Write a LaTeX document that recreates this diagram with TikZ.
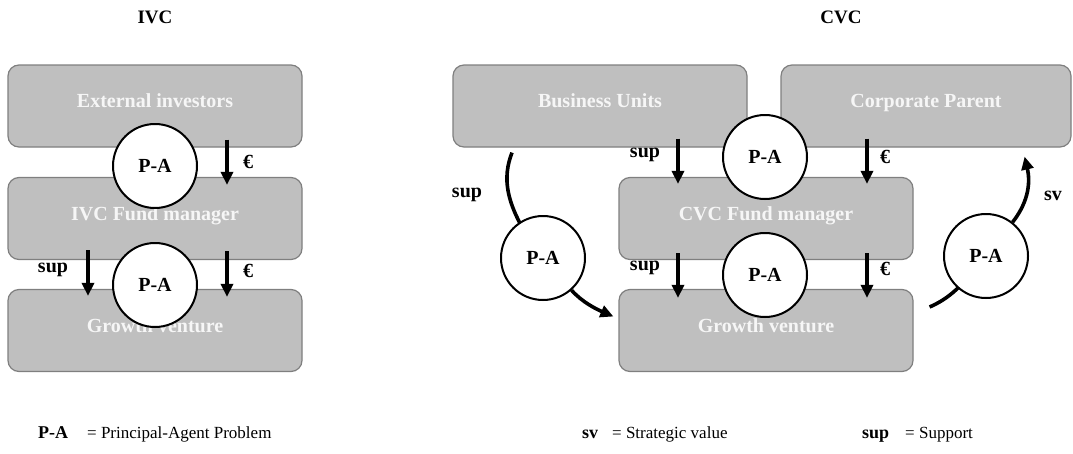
\documentclass[tikz,border=0pt]{standalone}
\usepackage{fontspec}
\setmainfont{Liberation Serif}
\usetikzlibrary{arrows.meta}
\definecolor{boxfill}{RGB}{191,191,191}
\definecolor{boxline}{RGB}{127,127,127}
\definecolor{boxtext}{RGB}{246,246,246}
\tikzset{
  box/.style={draw=boxline, line width=1.2pt, fill=boxfill, rounded corners=11pt,
    minimum width=294pt, minimum height=82pt, inner sep=0pt, text=boxtext,
    font=\fontsize{20}{20}\selectfont\bfseries, text height=13pt, text depth=10pt},
  pa/.style={circle, draw=black, line width=2pt, fill=white, minimum size=84pt,
    inner sep=0pt, font=\fontsize{20}{20}\selectfont\bfseries},
  flow/.style={line width=3.6pt, -{Triangle[length=13pt,width=12pt]}},
  plain/.style={line width=3.6pt},
  lbl/.style={font=\fontsize{20}{20}\selectfont\bfseries, inner sep=0pt},
  ttl/.style={font=\fontsize{19}{19}\selectfont\bfseries, inner sep=0pt},
  legb/.style={font=\fontsize{18}{18}\selectfont\bfseries, inner sep=0pt, anchor=base west},
  leg/.style={font=\fontsize{17}{17}\selectfont, inner sep=0pt, anchor=base west},
}
\begin{document}
\begin{tikzpicture}[x=1pt,y=-1pt]
\useasboundingbox (0,0) rectangle (1073,453);
% titles
\node[ttl] (tivc) at (155,17) {IVC};
\node[ttl] (tcvc) at (841,17) {CVC};
% IVC boxes
\node[box] (ext) at (155,106) {External investors};
\node[box] (ivcf) at (155,218.5) {IVC Fund manager};
\node[box] (gv1) at (155,330.5) {Growth venture};
% CVC boxes
\node[box] (bu) at (600,106) {Business Units};
\node[box, minimum width=290pt] (cp) at (926,106) {Corporate Parent};
\node[box] (cvcf) at (766,218.5) {CVC Fund manager};
\node[box] (gv2) at (766,330.5) {Growth venture};
% connectors behind circles
\draw[plain] ([xshift=-88pt,yshift=-5pt]bu.south) .. controls (503,176) and (502,205) .. (543,258);
\draw[plain] ([xshift=16pt,yshift=23.5pt]gv2.east) .. controls (945,300) and (958,292) .. (986,256);
% P-A circles
\node[pa] (pa1) at (155,166) {P-A};
\node[pa] (pa2) at (155,285) {P-A};
\node[pa] (pa3) at (765,157) {P-A};
\node[pa] (pa4) at (765,275) {P-A};
\node[pa] (pa5) at (543,258) {P-A};
\node[pa] (pa6) at (986,256) {P-A};
% IVC arrows
\draw[flow] ([xshift=72pt,yshift=8pt]ext.south) -- ([xshift=72pt,yshift=-8pt]ivcf.north);
\draw[flow] ([xshift=-67pt,yshift=10pt]ivcf.south) -- ([xshift=-67pt,yshift=-7pt]gv1.north);
\draw[flow] ([xshift=72pt,yshift=9pt]ivcf.south) -- ([xshift=72pt,yshift=-8pt]gv1.north);
\node[lbl] (e1) at (248,162) {€};
\node[lbl] (s1) at (53,270) {sup};
\node[lbl] (e2) at (248,271) {€};
% CVC arrows
\draw[flow] ([xshift=78pt,yshift=9pt]bu.south) -- ([xshift=-88pt,yshift=-7pt]cvcf.north);
\draw[flow] ([xshift=-59pt,yshift=9pt]cp.south) -- ([xshift=101pt,yshift=-7pt]cvcf.north);
\draw[flow] ([xshift=-88pt,yshift=7pt]cvcf.south) -- ([xshift=-88pt,yshift=-9pt]gv2.north);
\draw[flow] ([xshift=101pt,yshift=7pt]cvcf.south) -- ([xshift=101pt,yshift=-9pt]gv2.north);
\node[lbl] (s2) at (645,155) {sup};
\node[lbl] (e3) at (885,157) {€};
\node[lbl] (s3) at (645,268) {sup};
\node[lbl] (e4) at (885,269) {€};
% curved arrows
\draw[flow] (pa5) .. controls (582,302) and (596,309) .. ([xshift=-5pt,yshift=14pt]gv2.west);
\draw[flow] (pa6) .. controls (1030,200) and (1030,180) .. ([xshift=-47pt,yshift=-9pt]cp.south east);
\node[lbl] (s4) at (467,195) {sup};
\node[lbl] (sv) at (1053,196) {sv};
% legend
\node[legb] (lpa) at (38,438) {P-A};
\node[leg] (lpat) at (87,438) {= Principal-Agent Problem};
\node[legb] (lsv) at (582,438) {sv};
\node[leg] (lsvt) at (612,438) {= Strategic value};
\node[legb] (lsup) at (862,438) {sup};
\node[leg] (lsupt) at (905,438) {= Support};
\end{tikzpicture}
\end{document}
